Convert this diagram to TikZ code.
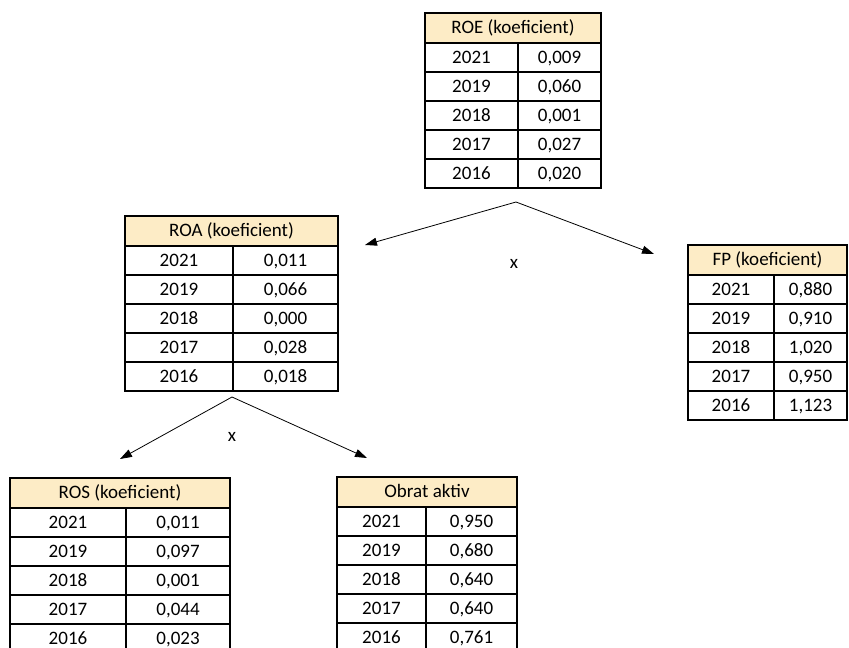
\documentclass[tikz,border=0pt]{standalone}
\usepackage{fontspec}
\setmainfont{Carlito}
\usetikzlibrary{arrows.meta}
\definecolor{hdrfill}{RGB}{253,236,198}
\tikzset{
  tabfont/.style={font=\fontsize{19}{23}\selectfont},
  hdr/.style={draw, line width=2.6pt, fill=hdrfill, inner sep=0pt, outer sep=0pt,
              minimum height=30pt, tabfont, text height=1.2em, text depth=0.08em,
              anchor=north west},
  cell/.style={draw, line width=1.2pt, inner sep=0pt, outer sep=0pt,
               minimum height=29pt, tabfont, text height=1.2em, text depth=0.08em,
               anchor=north west},
  outerbox/.style={draw, line width=2pt},
  link/.style={line width=0.8pt, -{Triangle[length=12pt,width=8pt]}},
  times/.style={tabfont, inner sep=0pt}
}
% #1 name, #2 left, #3 column divider, #4 right, #5 top, #6 title, #7 year/value list
\newcommand\dtab[7]{%
  \foreach \yr/\val [count=\i] in {#7} {
    \node[cell, minimum width={#3-#2}] (#1y\i) at (#2,{#5+30+(\i-1)*29}) {\yr};
    \node[cell, minimum width={#4-#3}] (#1v\i) at (#3,{#5+30+(\i-1)*29}) {\val};
  }
  \draw[outerbox] (#2,#5+30) rectangle (#4,#5+175);
  \node[hdr, minimum width={#4-#2}] (#1h) at (#2,#5) {#6};
}
\begin{document}
\begin{tikzpicture}[x=1pt,y=-1pt]
\useasboundingbox (0,0) rectangle (849,648);
\clip (0,0) rectangle (849,648);
\fill[white] (0,0) rectangle (849,648);

\dtab{roe}{425}{518}{601}{13}{ROE (koeficient)}{2021/{0,009},2019/{0,060},2018/{0,001},2017/{0,027},2016/{0,020}}
\dtab{roa}{125}{233}{338}{216}{ROA (koeficient)}{2021/{0,011},2019/{0,066},2018/{0,000},2017/{0,028},2016/{0,018}}
\dtab{fp}{688}{774}{847}{245}{FP (koeficient)}{2021/{0,880},2019/{0,910},2018/{1,020},2017/{0,950},2016/{1,123}}
\dtab{ros}{10}{126}{230}{478}{ROS (koeficient)}{2021/{0,011},2019/{0,097},2018/{0,001},2017/{0,044},2016/{0,023}}
\dtab{obr}{337}{426}{517}{477}{Obrat aktiv}{2021/{0,950},2019/{0,680},2018/{0,640},2017/{0,640},2016/{0,761}}

\coordinate (roeApex) at (516,202);
\coordinate (roaTip) at (365,245);
\coordinate (fpTip) at (654,254);
\draw[link] (roeApex) -- (roaTip);
\draw[link] (roeApex) -- (fpTip);
\node[times] (x1) at (514,264) {x};

\coordinate (roaApex) at (232,397);
\coordinate (rosTip) at (120,459);
\coordinate (obrTip) at (367,458);
\draw[link] (roaApex) -- (rosTip);
\draw[link] (roaApex) -- (obrTip);
\node[times] (x2) at (232,437) {x};
\end{tikzpicture}
\end{document}
